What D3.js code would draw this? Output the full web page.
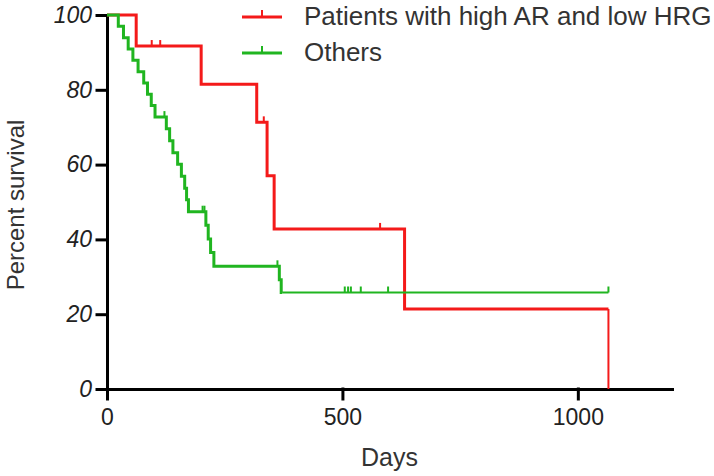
<html>
<head>
<meta charset="utf-8">
<script src="https://d3js.org/d3.v7.min.js"></script>
<style>
body {
	margin: 0;
	background: #fff;
	font-family: "Liberation Sans", Arial, sans-serif;
}
.axis path,
.axis line {
	stroke: #000;
	stroke-width: 3;
	stroke-linecap: square;
}
.axis text {
	fill: #222;
	font-size: 23px;
	font-family: "Liberation Sans", Arial, sans-serif;
}
.axis--y text {
	font-style: italic;
}
.title {
	fill: #333;
	font-size: 25px;
}
.km {
	fill: none;
	stroke-linejoin: miter;
}
</style>
</head>
<body>
<div id="chart"></div>
<script>

// --- data ---
// high AR / low HRG group (step times in days, survival after step in %)
var redTimes = [0, 62, 200, 318, 340, 355, 632, 1065];
var redSurv = [100, 91.7, 81.5, 71.3, 57.0, 42.8, 21.4, 0];
var redCensor = [95, 113, 333, 580];

// others
var greenTimes = [0, 24, 35, 45, 55, 66, 78, 86, 94, 102, 126, 133, 140, 150, 158, 165, 169, 173, 210, 215, 220, 227, 366, 370];
var greenSurv = [100, 97.0, 93.9, 90.9, 87.9, 84.8, 81.8, 78.8, 75.8, 72.7, 69.6, 66.4, 63.2, 60.1, 56.9, 53.7, 50.6, 47.4, 43.8, 40.1, 36.5, 32.8, 29.2, 25.8];
var greenCensor = [122, 203, 207, 362, 505, 512, 518, 539, 597, 1065];

var seriesNames = ["Patients with high AR and low HRG", "Others"];
var xTicks = [0, 500, 1000];
var yTicks = [0, 20, 40, 60, 80, 100];

var W = 714, H = 476;

let x = d3.scaleLinear().domain([0, 1200]).range([107, 672]);
let y = d3.scaleLinear().domain([0, 100]).range([389, 15]);

let svg = d3.select("#chart").append("svg")
	.attr("width", W)
	.attr("height", H);

// axes
svg.append("g")
	.attr("class", "axis axis--x")
	.attr("transform", "translate(0," + y(0) + ")")
	.call(d3.axisBottom(x).tickValues(xTicks).tickSize(10).tickSizeOuter(0).tickPadding(10).tickFormat(d3.format("d")));

svg.append("g")
	.attr("class", "axis axis--y")
	.attr("transform", "translate(" + x(0) + ",0)")
	.call(d3.axisLeft(y).tickValues(yTicks).tickSize(10).tickSizeOuter(0).tickPadding(5));

// axis titles
svg.append("text")
	.attr("class", "title")
	.attr("text-anchor", "middle")
	.attr("x", (x(0) + x(1200)) / 2)
	.attr("y", 466)
	.text("Days");

svg.append("text")
	.attr("class", "title")
	.attr("text-anchor", "middle")
	.attr("font-size", 24)
	.style("font-size", "24px")
	.attr("transform", "translate(24," + 205 + ") rotate(-90)")
	.text("Percent survival");

// survival at time t (step function)
function survAt(times, surv, t) {
	let s = surv[0];
	for (let i = 0; i < times.length; i++) {
		if (times[i] <= t) s = surv[i];
	}
	return s;
}

let line = d3.line()
	.x(function(d) { return x(d[0]); })
	.y(function(d) { return y(d[1]); })
	.curve(d3.curveStepAfter);

function drawSeries(times, surv, censor, color, endTime, thinFrom) {
	let pts = times.map(function(t, i) { return [t, surv[i]]; });
	if (endTime > times[times.length - 1]) pts.push([endTime, surv[surv.length - 1]]);

	// thick part, then the thinner tail
	let thick = pts.filter(function(p) { return p[0] < thinFrom; });
	let sSplit = survAt(times, surv, thinFrom - 0.001);
	thick.push([thinFrom, sSplit]);
	let thin = [[thinFrom, sSplit]].concat(pts.filter(function(p) { return p[0] >= thinFrom; }));

	svg.append("path")
		.attr("class", "km")
		.attr("d", line(thick))
		.attr("stroke", color)
		.attr("stroke-width", 3);
	svg.append("path")
		.attr("class", "km")
		.attr("d", line(thin))
		.attr("stroke", color)
		.attr("stroke-width", 2);

	// censor marks
	svg.selectAll(null)
		.data(censor)
		.enter()
		.append("line")
		.attr("x1", function(d) { return x(d); })
		.attr("x2", function(d) { return x(d); })
		.attr("y1", function(d) { return y(survAt(times, surv, d)); })
		.attr("y2", function(d) { return y(survAt(times, surv, d)) - 6; })
		.attr("stroke", color)
		.attr("stroke-width", 2);
}

var colors = ["#f41a1a", "#20b520"];

drawSeries(redTimes, redSurv, redCensor, colors[0], 1065, 1065);
drawSeries(greenTimes, greenSurv, greenCensor, colors[1], 1065, 372);

// legend
let legend = svg.selectAll(".legend")
	.data(seriesNames)
	.enter()
	.append("g")
	.attr("class", "legend")
	.attr("transform", function(d, i) { return "translate(242," + (17 + i * 36) + ")"; });

legend.append("line")
	.attr("x1", 0).attr("x2", 40)
	.attr("y1", 0).attr("y2", 0)
	.attr("stroke", function(d, i) { return colors[i]; })
	.attr("stroke-width", 3);
legend.append("line")
	.attr("x1", 20).attr("x2", 20)
	.attr("y1", 0).attr("y2", -7)
	.attr("stroke", function(d, i) { return colors[i]; })
	.attr("stroke-width", 2);
legend.append("text")
	.attr("class", "title")
	.attr("x", 62)
	.attr("y", 8)
	.style("font-size", "26px")
	.attr("fill", "#222")
	.text(function(d) { return d; });

</script>
</body>
</html>
